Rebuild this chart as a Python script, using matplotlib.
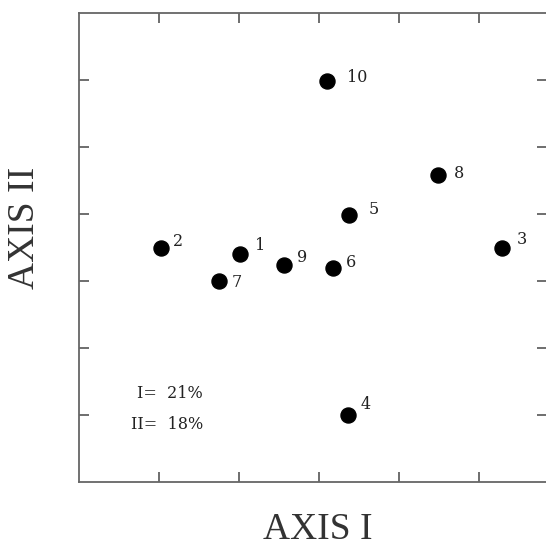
import matplotlib.pyplot as plt

# ordination scores
labels = ['1', '2', '3', '4', '5', '6', '7', '8', '9', '10']
axis1 = [2.01, 1.02, 5.28, 3.365, 3.37, 3.17, 1.75, 4.49, 2.56, 3.10]
axis2 = [3.40, 3.50, 3.49, 1.00, 3.99, 3.19, 3.00, 4.58, 3.24, 5.98]
variance = [('I=', '21%'), ('II=', '18%')]

# label offsets in pixels (x to text left, y to baseline)
offsets = [(15, 4), (12, 1), (15, 4), (12, 6), (20, 1),
           (13, 1), (13, -6), (15, -3), (13, 3), (20, -1)]

fig = plt.figure(figsize=(5.46, 5.48), dpi=100)
ax = fig.add_axes([79 / 546, 66 / 548, 467.5 / 546, 469 / 548])

ax.scatter(axis1, axis2, s=117, color='black', zorder=3)
for i in range(len(labels)):
    ax.annotate(labels[i], (axis1[i], axis2[i]), xytext=offsets[i],
                textcoords='offset pixels', ha='left', va='baseline',
                fontsize=11.5, family='DejaVu Serif', color='#222222')

ax.text(0.2655, 0.179, variance[0][0] + '  ' + variance[0][1], transform=ax.transAxes,
        ha='right', va='baseline', fontsize=11.5, family='DejaVu Serif', color='#222222')
ax.text(0.2655, 0.113, variance[1][0] + '  ' + variance[1][1], transform=ax.transAxes,
        ha='right', va='baseline', fontsize=11.5, family='DejaVu Serif', color='#222222')

ax.set_xlim(0, 5.84)
ax.set_ylim(0, 7)
ax.set_xticks([1, 2, 3, 4, 5])
ax.set_yticks([1, 2, 3, 4, 5, 6])
ax.tick_params(direction='in', length=7, width=1.2, color='#555555',
               top=True, right=True, labelbottom=False, labelleft=False)
for s in ax.spines.values():
    s.set_color('#666666')
    s.set_linewidth(1.3)
ax.spines['right'].set_color('#bbbbbb')

fig.text(0.046, 0.584, 'AXIS II', rotation=90, ha='center', va='center',
         fontsize=27, family='Liberation Serif', color='#333333')
fig.text(0.582, 0.002, 'AXIS I', ha='center', va='bottom',
         fontsize=27, family='Liberation Serif', color='#333333')

plt.savefig('out.png', dpi=100)
